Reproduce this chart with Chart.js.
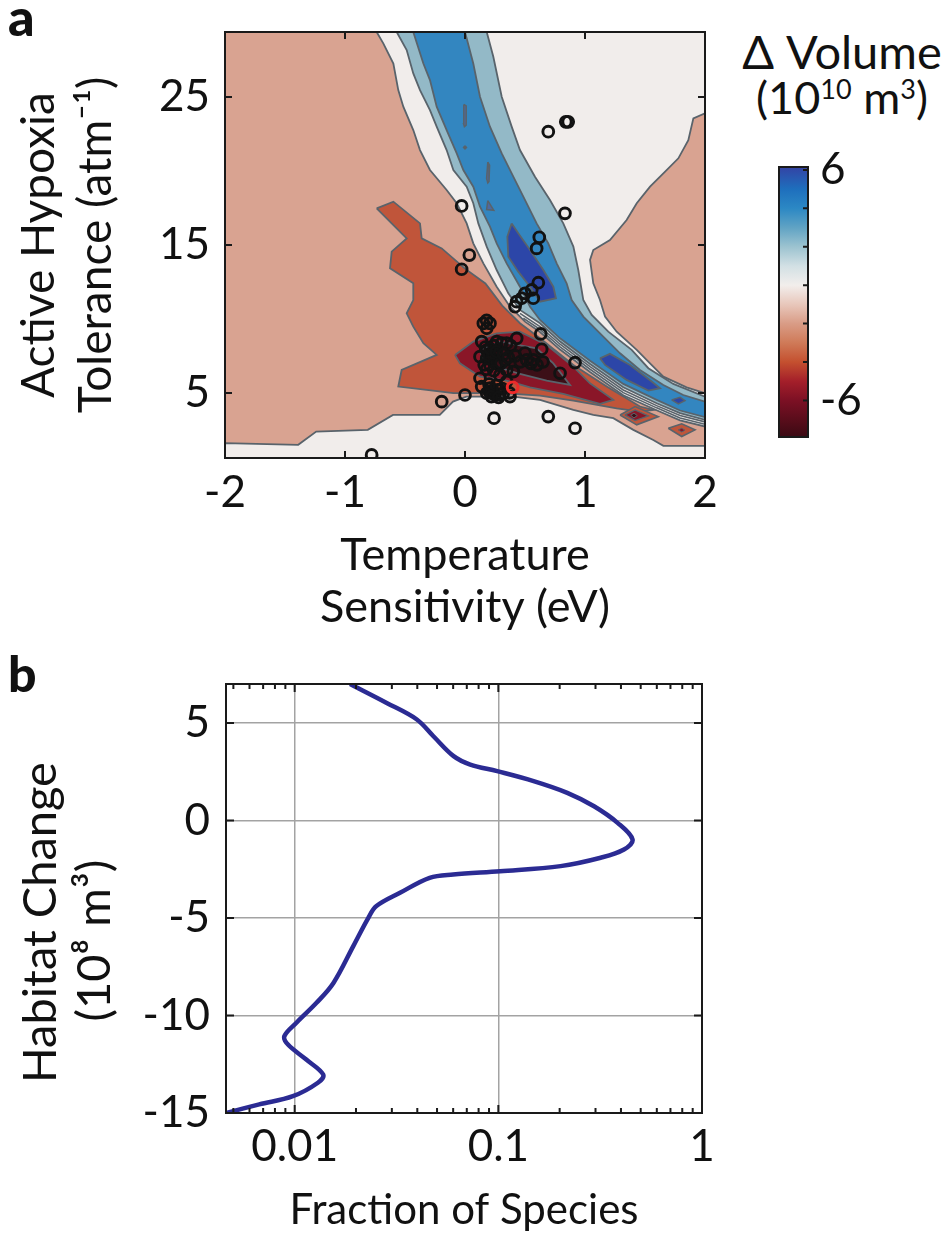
<!DOCTYPE html>
<html>
<head>
<meta charset="utf-8">
<script src="https://cdn.jsdelivr.net/npm/chart.js@4.4.1/dist/chart.umd.min.js"></script>
<style>
  body { margin: 0; background: #fff; width: 945px; height: 1259px; position: relative; overflow: hidden; font-family: Lato, sans-serif; color: #111; }
  canvas { position: absolute; }
  #top { left: 0; top: 0; }
  #bar { left: 720px; top: 0; }
  #bottom { left: 0; top: 650px; }
  .panel { position: absolute; font-weight: 900; line-height: 1; }
  .cbt { position: absolute; left: 736px; width: 212px; text-align: center; line-height: 1; white-space: nowrap; }
  .cbt span { font-size: 27px; vertical-align: 15px; }
</style>
</head>
<body>
<div class="panel" style="left:8px;top:-10px;font-size:52px">a</div>
<div class="panel" style="left:8px;top:648px;font-size:50px">b</div>
<div class="cbt" style="top:28px;font-size:47px">Δ Volume</div>
<div class="cbt" style="top:75px;font-size:45px">(10<span>10</span> m<span>3</span>)</div>
<canvas id="top" width="720" height="650"></canvas>
<canvas id="bar" width="225" height="460"></canvas>
<canvas id="bottom" width="945" height="609"></canvas>
<script>
// ---- panel a: contour regions, [temperature sensitivity eV, hypoxia tolerance atm-1]
const tolTicks = [5, 15, 25];

const regionBase = [[-2,0.6],[2,0.6],[2,29.4],[-2,29.4],[-2,0.6]];

const regionWhiteUpper = [[-0.736,29.4],[-0.681,28.63],[-0.597,27.27],[-0.556,25.47],[-0.514,24.35],[-0.431,22.77],
  [-0.375,21.42],[-0.292,20.07],[-0.153,18.72],[-0.069,17.82],[0.014,16.46],[0.069,15.11],[0.153,13.76],[0.264,12.18],
  [0.375,10.83],[0.5,9.82],[0.625,9.12],[0.792,7.93],[1.042,6.42],[1.319,4.84],[1.597,3.83],[1.792,3.15],[2,2.73],
  [2,29.4],[-0.736,29.4]];

const regionWhiteLower = [[-2,0.6],[-2,1.6],[-1.39,1.49],[-1.24,2.39],[-0.81,2.5],[-0.6,3.51],[-0.21,3.51],[-0.1,4.41],
  [0.01,4.75],[0.4,4.75],[0.625,4.53],[0.903,3.85],[1.069,3.51],[1.236,3.29],[1.403,2.5],[1.569,1.82],[1.653,1.42],
  [2,1.42],[2,0.6],[-2,0.6]];

const regionSalmonRight = [[2,23.9],[1.903,23.56],[1.861,22.09],[1.778,20.86],[1.653,19.84],[1.542,18.94],[1.431,17.82],
  [1.347,16.69],[1.208,15.34],[1.069,14.66],[1.042,13.99],[1.069,12.41],[1.125,11.28],[1.167,10.16],[1.264,9.14],
  [1.431,7.91],[1.542,7.0],[1.653,6.10],[1.847,5.38],[2,4.98],[2,23.9]];

const regionLightBlue = [[-0.569,29.4],[-0.486,28.18],[-0.431,26.6],[-0.375,25.47],[-0.292,24.12],[-0.236,23.0],
  [-0.153,21.42],[-0.097,20.07],[0.014,18.94],[0.069,17.82],[0.111,16.46],[0.181,14.89],[0.264,13.31],[0.361,11.73],
  [0.458,10.61],[0.625,9.71],[0.792,8.47],[1.042,6.96],[1.319,5.38],[1.597,4.30],[1.792,3.63],[2,3.18],
  [2,4.75],[1.736,5.61],[1.528,6.67],[1.389,7.91],[1.194,9.14],[1.056,10.27],[0.986,11.28],[0.944,13.31],[0.903,14.89],
  [0.819,16.46],[0.708,18.04],[0.583,19.62],[0.458,21.42],[0.389,23.0],[0.306,25.02],[0.236,27.73],[0.181,29.4],[-0.569,29.4]];

const regionBlue = [[-0.431,29.4],[-0.347,27.27],[-0.292,26.15],[-0.236,24.35],[-0.153,22.77],[-0.069,21.19],
  [-0.014,20.07],[0.069,18.94],[0.125,17.59],[0.208,16.24],[0.264,15.11],[0.347,13.76],[0.458,12.18],[0.542,10.83],
  [0.625,9.93],[0.792,8.69],[1.042,7.18],[1.319,5.61],[1.597,4.53],[1.792,3.81],[2,3.36],
  [2,4.41],[1.819,4.86],[1.653,5.54],[1.458,6.55],[1.292,7.68],[1.125,9.03],[0.986,10.16],[0.889,11.28],[0.847,12.41],
  [0.764,13.76],[0.694,15.11],[0.597,16.46],[0.486,18.27],[0.389,19.84],[0.306,21.19],[0.208,23.0],[0.125,25.02],
  [0.069,27.27],[0,29.4],[-0.431,29.4]];

const regionDarkBlue1 = [[0.389,16.46],[0.444,15.79],[0.542,14.66],[0.653,13.31],[0.736,12.18],[0.758,11.40],
  [0.625,11.17],[0.542,12.18],[0.444,13.2],[0.361,14.21],[0.353,15.56],[0.389,16.46]];
const regionDarkBlue2 = [[1.125,7.34],[1.208,7.64],[1.375,6.89],[1.556,5.77],[1.625,5.32],[1.528,5.16],[1.347,5.88],
  [1.167,6.89],[1.125,7.34]];
const regionDarkBlue3 = [[1.722,4.53],[1.792,4.71],[1.833,4.48],[1.778,4.26],[1.722,4.53]];

const sliver1 = [[-0.01,24.5],[0.01,24.4],[0.01,23.1],[-0.005,23.0],[-0.012,23.2],[-0.01,24.5]];
const sliver2 = [[0,21.7],[0.012,21.6],[0,21.5],[-0.012,21.6],[0,21.7]];
const sliver3 = [[0.19,20.6],[0.205,20.4],[0.2,19.3],[0.19,19.2],[0.18,19.5],[0.19,20.6]];
const sliver4 = [[0.19,18.0],[0.24,17.35],[0.18,17.4],[0.19,18.0]];

const lineLevel1 = [[0.458,10.38],[0.625,9.48],[0.792,8.29],[1.042,6.78],[1.319,5.20],[1.597,4.14],[1.792,3.47],[2,3.04]];
const lineLevel2 = [[0.486,10.05],[0.625,9.30],[0.792,8.11],[1.042,6.60],[1.319,5.02],[1.597,3.99],[1.792,3.31],[2,2.88]];

const regionOrange = [[-0.736,17.48],[-0.597,17.93],[-0.375,16.46],[-0.361,15.45],[-0.194,14.77],[0.0,13.4],[0.17,12.4],
  [0.31,10.9],[0.458,9.71],[0.625,8.69],[0.903,6.89],[1.181,5.43],[1.458,4.08],[1.569,3.85],[1.458,3.74],[1.264,3.96],
  [0.903,4.48],[0.625,4.82],[0.403,4.93],[0.125,4.98],[-0.097,4.98],[-0.319,5.20],[-0.556,5.43],[-0.528,6.55],
  [-0.236,7.57],[-0.347,8.36],[-0.431,9.48],[-0.486,10.38],[-0.431,11.28],[-0.431,12.41],[-0.625,13.42],[-0.611,14.55],
  [-0.486,15.45],[-0.736,17.48]];
const regionCrimson = [[-0.083,7.57],[0.069,8.47],[0.264,9.03],[0.458,9.14],[0.681,8.24],[0.903,6.78],[1.042,5.65],
  [1.236,4.53],[1.125,4.26],[0.819,4.93],[0.542,5.38],[0.347,5.83],[0.125,6.10],[-0.042,7.0],[-0.083,7.57]];
const regionDark = [[0.125,7.91],[0.292,8.47],[0.597,8.02],[0.736,7.0],[0.875,5.54],[0.681,5.83],[0.458,6.28],
  [0.264,6.78],[0.153,7.23],[0.125,7.91]];

const diamond1Outer = [[1.292,3.51],[1.417,4.08],[1.611,3.40],[1.431,2.84],[1.292,3.51]];
const diamond1Inner = [[1.333,3.51],[1.417,3.85],[1.528,3.45],[1.417,3.13],[1.333,3.51]];
const diamond1Core = [[1.381,3.49],[1.408,3.63],[1.436,3.47],[1.408,3.31],[1.381,3.49]];
const diamond2Outer = [[1.694,2.61],[1.806,2.91],[1.917,2.50],[1.806,2.05],[1.694,2.61]];
const diamond2Inner = [[1.778,2.50],[1.806,2.61],[1.833,2.48],[1.806,2.36],[1.778,2.50]];

// species (circles)
const speciesSens = [0.694,0.84,0.86,0.833,-0.028,0.036,-0.028,0.619,0.597,0.611,0.556,0.5,0.472,0.43,0.417,0.569,
  0.631,0.639,0.917,0.792,0.569,0.514,0.403,0.347,0.333,0.306,0.347,0.431,0.264,0.153,0.208,0.181,0.139,0.181,0.125,
  0.181,0.222,0.208,0.264,0.125,0.139,0.208,0.236,0.181,0.25,0.319,0.375,0.347,0.0,-0.194,0.242,0.694,0.917,-0.778,
  0.18,0.2,0.22,0.27,0.29,0.2,0.23,0.16,0.3,0.55,0.24,0.38,
  0.17,0.21,0.26,0.32,0.36,0.42,0.46,0.18,0.24,0.29,0.2,0.26,0.31,0.22,0.28,0.37,0.6,0.65,0.5];
const speciesTol = [22.66,23.33,23.33,17.14,17.64,14.32,13.36,15.52,14.77,12.45,11.96,11.73,11.4,11.17,10.83,11.4,
  8.99,7.95,7.05,6.33,7.23,7.23,6.44,6.55,7.23,8.36,8.36,8.69,8.47,9.7,9.7,9.37,8.47,7.9,7.45,
  7.34,7.34,6.89,7.0,5.99,5.43,5.32,5.09,4.98,4.86,4.98,4.75,5.77,4.86,4.41,3.29,3.4,2.61,0.81,
  9.9,5.1,5.0,5.2,4.9,7.6,7.7,6.9,7.0,7.0,8.2,8.2,
  8.1,8.0,7.8,7.6,7.4,7.5,7.1,6.6,6.5,6.2,5.6,5.5,5.3,4.75,4.7,5.0,6.9,7.1,7.7];
const highlightSens = [0.397];
const highlightTol = [5.38];

// colour bar
const cbMin = -7.9, cbMax = 6.15;
const cbTicks = [-6, -4, -2, 0, 2, 4, 6];
const cbLabels = [6, 0, -6];
const cbStopVals = [-7.9, -6, -5, -4, -3, -2, -1, 0, 1, 2, 3, 4, 5, 6, 6.15];
const cbStopCols = ['#3a0a13','#7c1024','#a41f2a','#c4502f','#cf7a58','#d99c86','#e8c7bb','#f2eeec','#d2e0e4',
  '#9cc3d0','#60a3c4','#2c88c4','#1e6fbd','#3049a8','#3a42a0'];

// ---- panel b: habitat change vs fraction of species
const fraction = [0.0187,0.0283,0.0398,0.048,0.0603,0.0728,0.0987,0.149,0.218,0.295,0.385,0.456,0.414,0.318,
  0.202,0.102,0.060,0.046,0.0329,0.0252,0.0230,0.0194,0.0155,0.0128,0.0102,0.0089,0.00927,0.0114,0.0138,0.0130,
  0.0098,0.0067,0.0046];
const habitat = [7.0,6.03,5.18,4.32,3.30,2.87,2.53,2.02,1.42,0.73,-0.12,-0.97,-1.49,-1.91,-2.34,-2.6,-2.77,-2.94,
  -3.71,-4.39,-4.99,-6.44,-8.33,-9.35,-10.37,-11.06,-11.49,-12.26,-13.03,-13.45,-14.14,-14.56,-15.0];
const fracMajor = [0.01, 0.1, 1];
const fracTicks = [0.005,0.006,0.007,0.008,0.009,0.01,0.02,0.03,0.04,0.05,0.06,0.07,0.08,0.09,0.1,
  0.2,0.3,0.4,0.5,0.6,0.7,0.8,0.9,1];
const habTicks = [-15, -10, -5, 0, 5];

Chart.defaults.font.family = 'Lato';
Chart.defaults.font.size = 44;
Chart.defaults.color = '#111';

const edge = '#59636b';

// boxed axes with inward tick marks, like the original figure
const framePlugin = {
  id: 'frame',
  afterDatasetsDraw(chart, args, o) {
    const { ctx, chartArea: a, scales } = chart;
    ctx.save();
    ctx.strokeStyle = '#1a1a1a';
    ctx.lineWidth = 2;
    ctx.beginPath();
    (o.xTicks || []).forEach(t => {
      const px = scales.x.getPixelForValue(t[0]);
      ctx.moveTo(px, a.bottom); ctx.lineTo(px, a.bottom - t[1]);
      ctx.moveTo(px, a.top); ctx.lineTo(px, a.top + t[1]);
    });
    (o.yTicks || []).forEach(t => {
      const py = scales.y.getPixelForValue(t[0]);
      if (!o.rightOnly) { ctx.moveTo(a.left, py); ctx.lineTo(a.left + t[1], py); }
      ctx.moveTo(a.right, py); ctx.lineTo(a.right - t[1], py);
    });
    ctx.stroke();
    ctx.strokeRect(a.left, a.top, a.right - a.left, a.bottom - a.top);
    ctx.restore();
  }
};

// fixed axis boxes so the plot areas land where the figure has them
const fixX = h => s => { s.height = h; s.paddingLeft = 0; s.paddingRight = 0; };
const fixY = w => s => { s.width = w; s.paddingTop = 0; s.paddingBottom = 0; };

const layers = [];
function region(pts, fill, border, width) {
  layers.push({
    data: pts.map(p => ({ x: p[0], y: p[1] })),
    showLine: true, fill: fill ? 'shape' : false,
    backgroundColor: fill || 'rgba(0,0,0,0)',
    borderColor: border, borderWidth: width,
    pointRadius: 0, tension: 0
  });
}
region(regionBase, '#d9a391', 'rgba(0,0,0,0)', 0);
region(regionWhiteUpper, '#f1edeb', edge, 1.8);
region(regionSalmonRight, '#d9a391', edge, 1.8);
region(regionLightBlue, '#93b9c7', edge, 1.8);
region(regionBlue, '#3386c0', edge, 1.8);
region(lineLevel1, null, edge, 1.6);
region(lineLevel2, null, edge, 1.6);
region(regionDarkBlue1, '#2c46a8', edge, 1.8);
region(regionDarkBlue2, '#2c46a8', edge, 1.8);
region(regionDarkBlue3, '#2c46a8', edge, 1.5);
region(sliver1, '#4e69a0', edge, 1.5);
region(sliver2, '#4e69a0', edge, 1.5);
region(sliver3, '#4e69a0', edge, 1.5);
region(sliver4, '#4e69a0', edge, 1.5);
region(regionWhiteLower, '#f1edeb', edge, 1.8);
region(regionOrange, '#c0553a', edge, 1.8);
region(regionCrimson, '#8a1628', edge, 1.8);
region(regionDark, '#3c0f17', edge, 1.8);
region(diamond1Outer, '#c0553a', edge, 1.6);
region(diamond1Inner, '#8a1628', edge, 1.4);
region(diamond1Core, '#3c0f17', edge, 1);
region(diamond2Outer, '#c0553a', edge, 1.6);
region(diamond2Inner, '#8a1628', edge, 1);
layers.push({
  data: speciesSens.map((s, i) => ({ x: s, y: speciesTol[i] })),
  pointRadius: 5.4, pointBorderWidth: 2.9, pointBorderColor: '#121212',
  pointBackgroundColor: 'rgba(0,0,0,0)', showLine: false
});
layers.push({
  data: highlightSens.map((s, i) => ({ x: s, y: highlightTol[i] })),
  pointRadius: 5.4, pointBorderWidth: 3, pointBorderColor: '#ee2a2a',
  pointBackgroundColor: 'rgba(0,0,0,0)', showLine: false
});
layers.forEach((d, i) => { d.order = -i; });

new Chart(document.getElementById('top'), {
  type: 'scatter',
  data: { datasets: layers },
  options: {
    responsive: false, animation: false, events: [],
    layout: { padding: { left: 0, right: 15, top: 32, bottom: 0 } },
    plugins: {
      legend: { display: false }, tooltip: { enabled: false },
      frame: { xTicks: [[-1, 7], [0, 7], [1, 7]], yTicks: tolTicks.map(v => [v, 7]) }
    },
    scales: {
      x: {
        type: 'linear', min: -2, max: 2,
        ticks: { stepSize: 1, padding: 8, maxRotation: 0 },
        grid: { display: false, drawTicks: false }, border: { display: false },
        title: { display: true, text: ['Temperature', 'Sensitivity (eV)'], font: { size: 45, lineHeight: 1.15 }, padding: { top: 0, bottom: 17 } },
        afterFit: fixX(192)
      },
      y: {
        type: 'linear', min: 0.6, max: 29.4,
        afterBuildTicks: s => { s.ticks = tolTicks.map(v => ({ value: v })); },
        ticks: { padding: 15 },
        grid: { display: false, drawTicks: false }, border: { display: false },
        title: { display: true, text: ['Active Hypoxia', 'Tolerance (atm⁻¹)'], font: { size: 46, lineHeight: 1.24 }, padding: { top: 11, bottom: 0 } },
        afterFit: fixY(225)
      }
    }
  },
  plugins: [framePlugin]
});

// colour bar drawn as one floating bar with the colormap as gradient
new Chart(document.getElementById('bar'), {
  type: 'bar',
  data: {
    labels: [''],
    datasets: [{
      data: [[cbMin, cbMax]],
      barPercentage: 1, categoryPercentage: 1, borderWidth: 0,
      backgroundColor: c => {
        const ch = c.chart;
        if (!ch.chartArea) return '#ccc';
        const y = ch.scales.y;
        const g = ch.ctx.createLinearGradient(0, y.getPixelForValue(cbMin), 0, y.getPixelForValue(cbMax));
        cbStopVals.forEach((v, i) => g.addColorStop((v - cbMin) / (cbMax - cbMin), cbStopCols[i]));
        return g;
      }
    }]
  },
  options: {
    responsive: false, animation: false, events: [],
    layout: { padding: { left: 59, right: 0, top: 167, bottom: 23 } },
    plugins: {
      legend: { display: false }, tooltip: { enabled: false },
      frame: { rightOnly: true, yTicks: cbTicks.map(v => [v, 5]) }
    },
    scales: {
      x: { display: false },
      y: {
        position: 'right', min: cbMin, max: cbMax,
        afterBuildTicks: s => { s.ticks = cbTicks.map(v => ({ value: v })); },
        ticks: { padding: 12, callback: v => (cbLabels.includes(v) ? String(v) : '') },
        grid: { display: false, drawTicks: false }, border: { display: false },
        afterFit: fixY(137)
      }
    }
  },
  plugins: [framePlugin]
});

// ---- panel b
const gridCol = '#a3a3a3';
new Chart(document.getElementById('bottom'), {
  type: 'scatter',
  data: {
    datasets: [{
      data: fraction.map((f, i) => ({ x: f, y: habitat[i] })),
      showLine: true, fill: false, borderColor: '#2b2b93', borderWidth: 4.5,
      pointRadius: 0, tension: 0.35
    }]
  },
  options: {
    responsive: false, animation: false, events: [],
    layout: { padding: { left: 0, right: 243, top: 34, bottom: 0 } },
    plugins: {
      legend: { display: false }, tooltip: { enabled: false },
      frame: {
        xTicks: fracTicks.map(v => [v, fracMajor.includes(v) ? 8 : 5]),
        yTicks: habTicks.map(v => [v, 8])
      }
    },
    scales: {
      x: {
        type: 'logarithmic', min: 0.0046, max: 1,
        afterBuildTicks: s => { s.ticks = fracTicks.map(v => ({ value: v })); },
        ticks: { autoSkip: false, maxRotation: 0, padding: 7, callback: v => (fracMajor.includes(v) ? String(v) : '') },
        grid: { drawTicks: false, lineWidth: 1.5, color: c => (c.tick && fracMajor.includes(c.tick.value) ? gridCol : 'rgba(0,0,0,0)') },
        border: { display: false },
        title: { display: true, text: 'Fraction of Species', font: { size: 42, lineHeight: 1.2 }, padding: { top: 0, bottom: 23 } },
        afterFit: fixX(146)
      },
      y: {
        type: 'linear', min: -15, max: 7,
        afterBuildTicks: s => { s.ticks = habTicks.map(v => ({ value: v })); },
        ticks: { padding: 16 },
        grid: { drawTicks: false, lineWidth: 1.5, color: c => (c.tick && c.tick.value === -15 ? 'rgba(0,0,0,0)' : gridCol) },
        border: { display: false },
        title: { display: true, text: ['Habitat Change    ', '(10⁸ m³)       '], font: { size: 47, lineHeight: 1.15 }, padding: { top: 14, bottom: 0 } },
        afterFit: fixY(226)
      }
    }
  },
  plugins: [framePlugin]
});
</script>
</body>
</html>
